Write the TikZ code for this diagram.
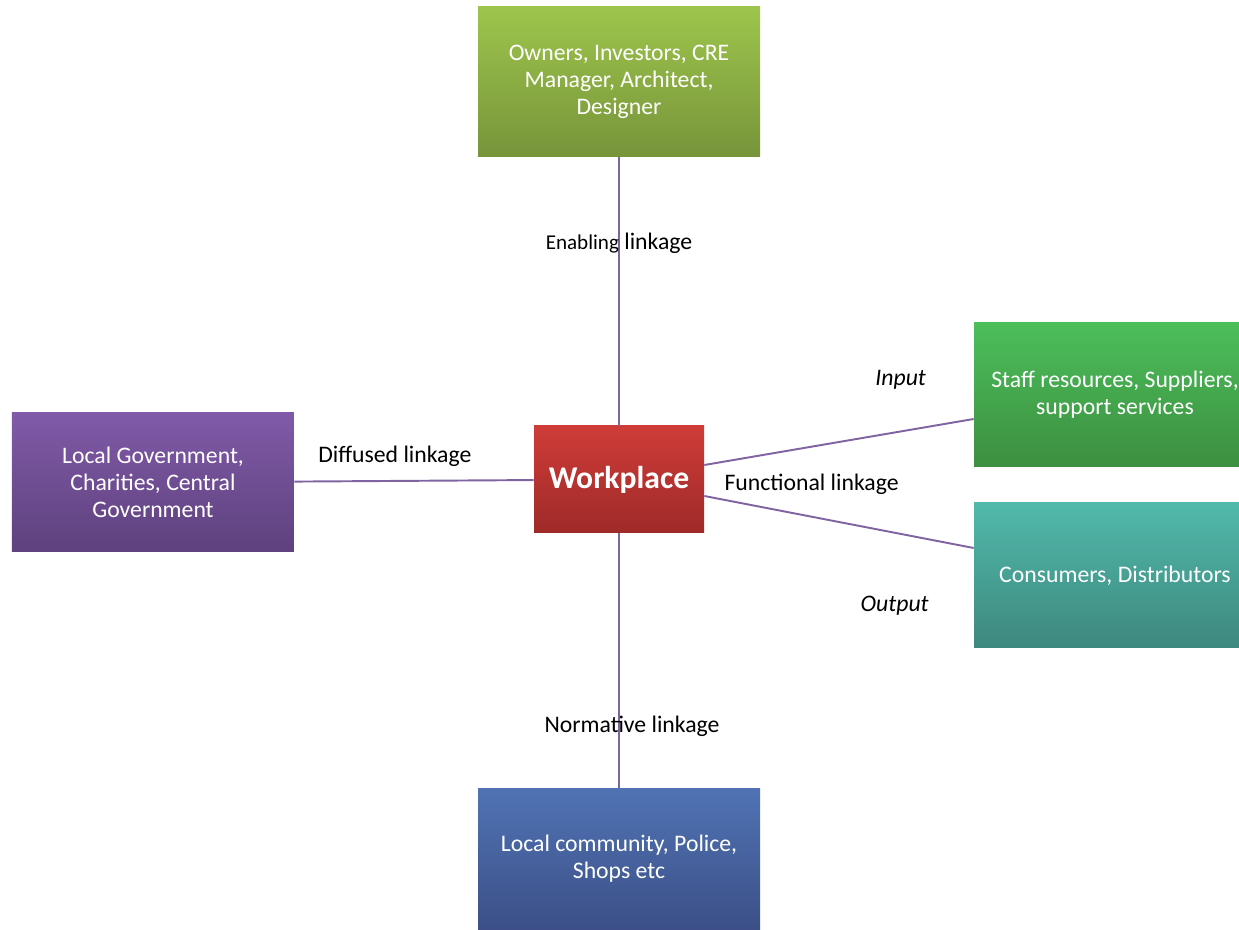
\documentclass[tikz,border=0pt]{standalone}
\usepackage{fontspec}
\setmainfont{Carlito}
\usetikzlibrary{positioning}

\definecolor{linkpurple}{RGB}{128,100,162}
\definecolor{ownertop}{RGB}{157,197,76}
\definecolor{ownerbot}{RGB}{119,148,58}
\definecolor{worktop}{RGB}{207,60,56}
\definecolor{workbot}{RGB}{158,42,40}
\definecolor{govtop}{RGB}{128,90,168}
\definecolor{govbot}{RGB}{94,65,125}
\definecolor{stafftop}{RGB}{76,190,90}
\definecolor{staffbot}{RGB}{60,143,64}
\definecolor{consumertop}{RGB}{80,185,170}
\definecolor{consumerbot}{RGB}{62,136,126}
\definecolor{communitytop}{RGB}{80,115,180}
\definecolor{communitybot}{RGB}{60,80,135}

\tikzset{
	party/.style={minimum width=5.64cm, inner sep=2pt, align=center, text=white, font=\fontsize{13.5}{15.2}\selectfont},
	link/.style={draw=linkpurple, line width=1.1pt},
	tag/.style={font=\fontsize{13.5}{14.8}\selectfont, yshift=-0.05cm}
}

\begin{document}
\begin{tikzpicture}[node distance=2cm,on grid]
	\useasboundingbox (-12.38,9.59) rectangle (12.40,-9.01);

	\node[minimum width=3.4cm, minimum height=2.14cm, top color=worktop, bottom color=workbot, text=white, font=\fontsize{18}{20}\bfseries\selectfont] (work) {Workplace};
	\node[party, minimum height=3cm, top color=ownertop, bottom color=ownerbot] (owners) [above=7.95cm of work] {Owners, Investors, CRE\\Manager, Architect,\\Designer};
	\node[party, minimum height=2.78cm, top color=govtop, bottom color=govbot] (government) [below left=0.06cm and 9.32cm of work] {Local Government,\\Charities, Central\\Government};
	\node[party, minimum height=2.88cm, top color=stafftop, bottom color=staffbot] (staff) [above right=1.69cm and 9.92cm of work] {Staff resources, Suppliers,\\support services};
	\node[party, minimum height=2.9cm, top color=consumertop, bottom color=consumerbot] (consumers) [below right=1.92cm and 9.92cm of work] {Consumers, Distributors};
	\node[party, minimum height=2.82cm, top color=communitytop, bottom color=communitybot] (community) [below=7.58cm of work] {Local community, Police,\\Shops etc};

	\draw[link] (owners) -- node[tag, pos=0.31] {{\fontsize{12}{14}\selectfont Enabling} linkage} (work);
	\draw[link] (work) -- node[tag, pos=0.75, xshift=0.26cm] {Normative linkage} (community);
	\draw[link] (government) -- node[tag, pos=0.42, above=0.21cm] {Diffused linkage} (work);
	\draw[link] ([yshift=0.29cm]work.east) -- ([yshift=-0.48cm]staff.west);
	\draw[link] ([yshift=-0.33cm]work.east) -- ([yshift=0.55cm]consumers.west);

	\node[tag, anchor=west] (functional) at ([xshift=0.28cm,yshift=-0.05cm]work.east) {Functional linkage};
	\node[tag] (input) at ([xshift=-1.46cm,yshift=0.36cm]staff.west) {\itshape Input};
	\node[tag] (output) at ([xshift=-1.58cm,yshift=-0.55cm]consumers.west) {\itshape Output};
\end{tikzpicture}
\end{document}
